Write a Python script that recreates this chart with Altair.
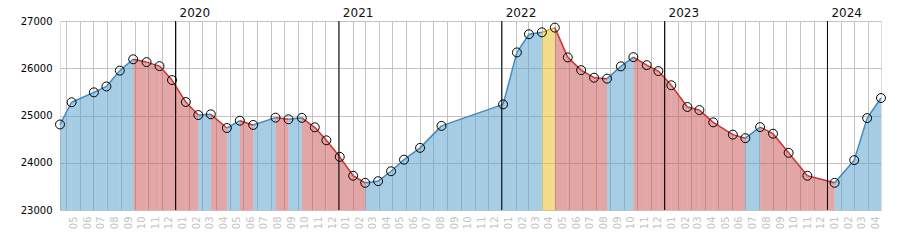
import altair as alt
import pandas as pd

dates = [
    "2019-04-17", "2019-05-13", "2019-07-02", "2019-07-30", "2019-08-29",
    "2019-09-28", "2019-10-28", "2019-11-26", "2019-12-24", "2020-01-24",
    "2020-02-21", "2020-03-20", "2020-04-25", "2020-05-24", "2020-06-23",
    "2020-08-12", "2020-09-10", "2020-10-10", "2020-11-08", "2020-12-04",
    "2021-01-03", "2021-02-02", "2021-03-01", "2021-03-30", "2021-04-28",
    "2021-05-27", "2021-07-02", "2021-08-19", "2022-01-04", "2022-02-04",
    "2022-03-03", "2022-04-01", "2022-04-30", "2022-05-29", "2022-06-28",
    "2022-07-27", "2022-08-25", "2022-09-25", "2022-10-23", "2022-11-22",
    "2022-12-18", "2023-01-16", "2023-02-21", "2023-03-20", "2023-04-20",
    "2023-06-03", "2023-07-01", "2023-08-03", "2023-09-01", "2023-10-06",
    "2023-11-17", "2024-01-17", "2024-03-01", "2024-03-30", "2024-04-30",
]
values = [
    24810, 25280, 25490, 25615, 25950,
    26190, 26130, 26045, 25750, 25285,
    25010, 25025, 24735, 24890, 24800,
    24955, 24920, 24950, 24750, 24475,
    24125, 23725, 23575, 23610, 23820,
    24065, 24315, 24780, 25235, 26335,
    26720, 26760, 26860, 26230, 25960,
    25800, 25780, 26040, 26235, 26065,
    25940, 25640, 25180, 25115, 24855,
    24595, 24520, 24755, 24615, 24210,
    23725, 23575, 24055, 24945, 25370,
]
# trend of each segment between consecutive points
trend = [
    "up", "up", "up", "up", "up",
    "down", "down", "down", "down", "down",
    "up", "down", "up", "down", "up",
    "down", "up", "down", "down", "down",
    "down", "down", "up", "up", "up",
    "up", "up", "up", "up", "up",
    "up", "flat", "down", "down", "down",
    "down", "up", "up", "down", "down",
    "down", "down", "down", "down", "down",
    "down", "up", "down", "down", "down",
    "down", "up", "up", "up",
]
year_starts = ["2020-01-01", "2021-01-01", "2022-01-01", "2023-01-01", "2024-01-01"]
year_labels = ["2020", "2021", "2022", "2023", "2024"]

rows = []
for i in range(len(trend)):
    rows.append({"seg": i, "date": dates[i], "value": values[i], "trend": trend[i]})
    rows.append({"seg": i, "date": dates[i + 1], "value": values[i + 1], "trend": trend[i]})
seg_df = pd.DataFrame(rows)
pts_df = pd.DataFrame({"date": dates, "value": values})
yr_df = pd.DataFrame({"date": year_starts, "label": year_labels})

FONT = "DejaVu Sans"
W, H = 821, 189

xscale = alt.Scale(domain=[dates[0], dates[-1]], nice=False)
yscale = alt.Scale(domain=[23000, 27000], nice=False, zero=False)

x_axis = alt.Axis(
    title=None, format="%m", tickCount={"interval": "month", "step": 1},
    labelAngle=-90, labelOffset=7, labelColor="#c4c4c4", labelFontSize=10,
    labelFont=FONT, labelPadding=6, labelOverlap=False, labelFlush=False,
    ticks=False, domain=False, grid=True, gridColor="#c4c4c4", gridWidth=1,
)
y_axis = alt.Axis(
    title=None, values=[23000, 24000, 25000, 26000, 27000], format="d",
    labelColor="#000000", labelFontSize=10, labelFont=FONT, labelPadding=8,
    ticks=False, domain=False, grid=True, gridColor="#c4c4c4", gridWidth=1,
)

fill_scale = alt.Scale(domain=["up", "down", "flat"], range=["#4d9bc7", "#c74d4d", "#e7bb15"])
line_scale = alt.Scale(domain=["up", "down", "flat"], range=["#3a8cc6", "#cc3333", "#e8b000"])

base = alt.Chart(seg_df)

area = base.mark_area(opacity=0.5, interpolate="linear").encode(
    x=alt.X("date:T", scale=xscale, axis=x_axis),
    y=alt.Y("value:Q", scale=yscale, axis=y_axis),
    y2=alt.datum(23000),
    color=alt.Color("trend:N", scale=fill_scale, legend=None),
    detail="seg:N",
)

line = base.mark_line(strokeWidth=1.5).encode(
    x="date:T",
    y="value:Q",
    color=alt.Color("trend:N", scale=line_scale, legend=None),
    detail="seg:N",
)

rules = alt.Chart(yr_df).mark_rule(color="#000000", strokeWidth=1).encode(
    x="date:T",
)

year_text = alt.Chart(yr_df).mark_text(
    align="left", baseline="alphabetic", dx=4, fontSize=12, font=FONT,
    fontWeight="normal", color="#111111"
).encode(
    x="date:T",
    y=alt.value(-4),
    text="label:N",
)

points = alt.Chart(pts_df).mark_point(
    shape="circle", size=80, filled=False, stroke="#000000", strokeWidth=1, opacity=1
).encode(
    x="date:T",
    y="value:Q",
)

chart = alt.layer(area, line, rules, points, year_text).resolve_scale(
    color="independent"
).properties(
    width=W, height=H,
    autosize=alt.AutoSizeParams(type="none"),
    padding={"left": 60, "top": 21, "right": 19, "bottom": 40},
).configure_view(
    stroke="#c4c4c4", strokeWidth=1
).configure(background="#ffffff")

chart.save("out.html", embed_options={"renderer": "svg", "actions": False})
